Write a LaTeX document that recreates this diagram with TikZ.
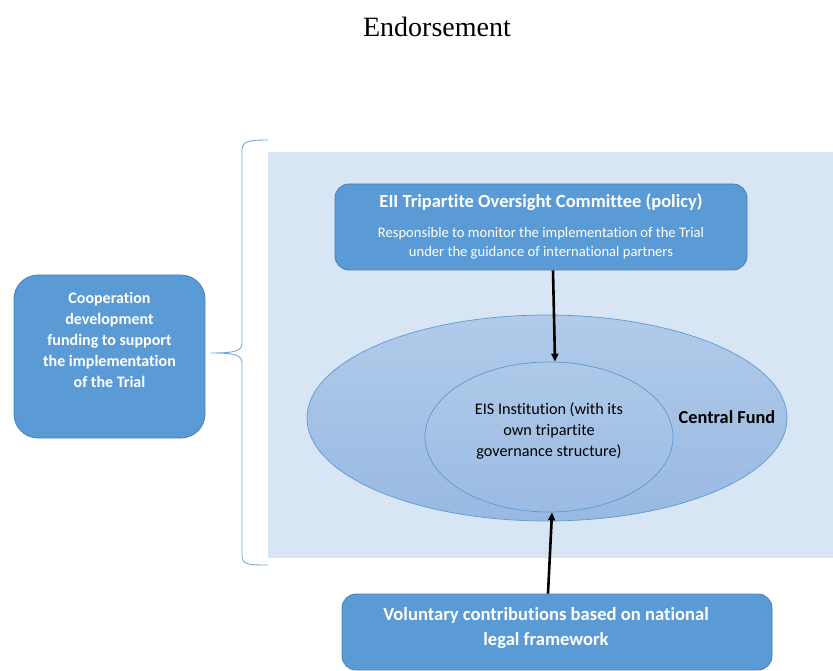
\documentclass[tikz,border=0pt]{standalone}
\usepackage{fontspec}
\setmainfont{Liberation Serif}
\newfontfamily\calib[Ligatures=NoCommon]{Carlito}
\usetikzlibrary{shapes.geometric,arrows.meta}
\definecolor{bgblue}{HTML}{D7E5F4}
\definecolor{boxblue}{HTML}{5B9BD5}
\definecolor{boxedge}{HTML}{4A80B8}
\definecolor{elltop}{HTML}{B1CBE9}
\definecolor{ellbot}{HTML}{98B9E2}
\definecolor{inntop}{HTML}{AEC9E8}
\definecolor{innbot}{HTML}{9BBBE3}
\definecolor{ellline}{HTML}{5B9BD5}
\tikzset{
  bluebox/.style={draw=boxedge, line width=0.8pt, fill=boxblue, rounded corners=14pt, inner sep=0pt},
  fundell/.style={ellipse, draw=ellline, line width=0.7pt, inner sep=0pt},
  flow/.style={line width=2.6pt, -{Triangle[length=8pt,width=7pt]}},
  brace/.style={draw=boxblue!85, line width=0.9pt},
  whitebold/.style={text=white, font=\calib\bfseries, align=center}
}
\begin{document}
\begin{tikzpicture}[x=1pt,y=-1pt]
\useasboundingbox (0,0) rectangle (833,671);
% title
\node (title) at (437,27) {\fontsize{28}{32}\selectfont Endorsement};
% background panel
\fill[bgblue] (268,152) rectangle (833,558);
% brace
\coordinate (bracetip) at (211,353);
\draw[brace] (268,140) .. controls (250,140) and (242,141) .. (242,150)
  -- (242,343) .. controls (242,351) and (235,353) .. (bracetip)
  .. controls (235,353) and (242,355) .. (242,363)
  -- (242,556) .. controls (242,565) and (250,565) .. (268,565);
% left box
\node[bluebox, rounded corners=24pt, minimum width=191pt, minimum height=163pt,
  label={[whitebold, font=\calib\bfseries\fontsize{16}{21}\selectfont, yshift=17pt]center:Cooperation\\development\\funding to support\\the implementation\\of the Trial}]
  (coop) at (109.5,356.5) {};
% top box
\node[bluebox, minimum width=412pt, minimum height=86pt,
  label={[whitebold, font=\calib\bfseries\fontsize{18.5}{22}\selectfont, yshift=25pt]center:EII Tripartite Oversight Committee (policy)},
  label={[text=white, align=center, font=\calib\fontsize{14.6}{19}\selectfont, yshift=-16pt]center:Responsible to monitor the implementation of the Trial\\under the guidance of international partners}]
  (ovs) at (541,227) {};
% central fund ellipse
\node[fundell, top color=elltop, bottom color=ellbot, minimum width=480pt, minimum height=206pt] (fund) at (547,418) {};
\node[font=\calib\bfseries\fontsize{18.3}{22}\selectfont] (fundlbl) at (727,417) {Central Fund};
% inner ellipse
\node[fundell, top color=inntop, bottom color=innbot, minimum width=248pt, minimum height=150pt,
  label={[align=center, font=\calib\fontsize{16.2}{21}\selectfont, yshift=6pt]center:EIS Institution (with its\\own tripartite\\governance structure)}]
  (eis) at (549,437) {};
% bottom box
\node[bluebox, minimum width=430pt, minimum height=76pt,
  label={[whitebold, font=\calib\bfseries\fontsize{18.6}{25}\selectfont, xshift=-11pt, yshift=4pt]center:Voluntary contributions based on national\\legal framework}]
  (vol) at (557,632) {};
% arrows
\draw[flow] ([xshift=12pt]ovs.south) -- ([xshift=6pt]eis.north);
\draw[flow] ([xshift=-9pt]vol.north) -- ([xshift=3pt]eis.south);
\end{tikzpicture}
\end{document}
